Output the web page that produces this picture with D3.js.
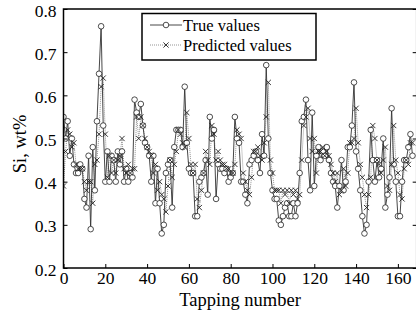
<!DOCTYPE html>
<html>
<head>
<meta charset="utf-8">
<script src="https://cdn.jsdelivr.net/npm/d3@7"></script>
<style>
  body { margin: 0; background: #fff; }
  text { font-family: "Liberation Serif", "DejaVu Serif", serif; fill: #000; }
</style>
</head>
<body>
<svg width="416" height="313"></svg>
<script>
// Si content of hot metal, true vs predicted, per tapping
var trueValues = [
  0.55,0.50,0.54,0.46,0.50,0.44,0.42,0.42,0.44,0.43,
  0.36,0.34,0.46,0.29,0.48,0.38,0.54,0.65,0.76,0.53,
  0.40,0.47,0.40,0.46,0.45,0.40,0.47,0.44,0.47,0.40,
  0.43,0.40,0.42,0.41,0.59,0.56,0.55,0.58,0.53,0.49,
  0.48,0.46,0.40,0.46,0.35,0.43,0.35,0.28,0.30,0.42,
  0.44,0.45,0.34,0.48,0.52,0.52,0.52,0.48,0.62,0.49,
  0.43,0.42,0.42,0.32,0.32,0.40,0.41,0.42,0.45,0.37,
  0.55,0.50,0.52,0.36,0.44,0.43,0.43,0.42,0.43,0.40,
  0.41,0.42,0.55,0.50,0.49,0.40,0.40,0.37,0.35,0.44,
  0.45,0.46,0.47,0.45,0.42,0.51,0.46,0.67,0.50,0.42,
  0.38,0.36,0.36,0.31,0.30,0.32,0.34,0.35,0.32,0.32,
  0.35,0.32,0.35,0.42,0.54,0.55,0.59,0.45,0.38,0.56,
  0.39,0.46,0.48,0.45,0.47,0.46,0.48,0.45,0.42,0.40,
  0.39,0.34,0.39,0.45,0.38,0.40,0.48,0.48,0.53,0.63,
  0.47,0.43,0.38,0.32,0.28,0.30,0.40,0.52,0.45,0.40,
  0.45,0.41,0.43,0.50,0.34,0.37,0.41,0.57,0.44,0.40,
  0.32,0.32,0.40,0.45,0.45,0.48,0.51,0.46
];
var predictedValues = [
  0.39,0.47,0.52,0.51,0.48,0.49,0.44,0.43,0.43,0.43,
  0.40,0.38,0.40,0.40,0.35,0.44,0.45,0.51,0.62,0.64,
  0.51,0.41,0.46,0.42,0.45,0.42,0.45,0.46,0.50,0.43,
  0.42,0.44,0.42,0.43,0.43,0.55,0.50,0.55,0.53,0.50,
  0.48,0.47,0.46,0.42,0.44,0.38,0.40,0.37,0.36,0.33,
  0.39,0.45,0.41,0.44,0.47,0.52,0.51,0.49,0.48,0.56,
  0.50,0.44,0.42,0.44,0.36,0.34,0.38,0.42,0.47,0.45,
  0.44,0.53,0.51,0.45,0.47,0.45,0.44,0.44,0.43,0.43,
  0.42,0.42,0.44,0.52,0.51,0.50,0.42,0.40,0.38,0.37,
  0.41,0.47,0.47,0.48,0.46,0.45,0.49,0.55,0.63,0.45,
  0.42,0.38,0.38,0.38,0.35,0.38,0.37,0.38,0.35,0.38,
  0.37,0.38,0.36,0.37,0.45,0.53,0.55,0.57,0.50,0.47,
  0.50,0.42,0.47,0.47,0.48,0.46,0.47,0.46,0.44,0.42,
  0.40,0.42,0.37,0.38,0.43,0.39,0.42,0.49,0.49,0.50,
  0.57,0.49,0.44,0.41,0.37,0.34,0.37,0.41,0.53,0.50,
  0.45,0.44,0.42,0.45,0.48,0.39,0.38,0.44,0.53,0.45,
  0.42,0.37,0.36,0.43,0.45,0.44,0.49,0.49
];
var xTicks = [0, 20, 40, 60, 80, 100, 120, 140, 160];
var yTicks = [0.2, 0.3, 0.4, 0.5, 0.6, 0.7, 0.8];
var seriesNames = ["True values", "Predicted values"];

var svg = d3.select("svg");
var mLeft = 63.5, mRight = 416.7, mTop = 9, mBottom = 268;

var x = d3.scaleLinear().domain([0, 169]).range([mLeft, mRight]);
var y = d3.scaleLinear().domain([0.2, 0.8]).range([mBottom, mTop]);

svg.append("clipPath").attr("id", "clip")
  .append("rect").attr("x", mLeft).attr("y", mTop).attr("width", mRight - mLeft).attr("height", mBottom - mTop);

var lineGen = d3.line().x(function(d, i) { return x(i); }).y(function(d) { return y(d); });

var pg = svg.append("g").attr("clip-path", "url(#clip)");

// predicted: dotted line
pg.append("path").datum(predictedValues)
  .attr("d", lineGen)
  .attr("fill", "none")
  .attr("stroke", "#888")
  .attr("stroke-width", 0.9)
  .attr("stroke-dasharray", "1,1");

// true: solid line
pg.append("path").datum(trueValues)
  .attr("d", lineGen)
  .attr("fill", "none")
  .attr("stroke", "#333")
  .attr("stroke-width", 0.9);

function cross(sel, cx, cy, s) {
  sel.append("path")
    .attr("d", "M" + (cx - s) + "," + (cy - s) + "L" + (cx + s) + "," + (cy + s) +
               "M" + (cx - s) + "," + (cy + s) + "L" + (cx + s) + "," + (cy - s))
    .attr("stroke", "#222").attr("stroke-width", 0.9).attr("fill", "none");
}

pg.selectAll("circle.t").data(trueValues).enter().append("circle")
  .attr("class", "t")
  .attr("cx", function(d, i) { return x(i); })
  .attr("cy", function(d) { return y(d); })
  .attr("r", 2.8)
  .attr("fill", "#fff")
  .attr("stroke", "#222")
  .attr("stroke-width", 0.8);

var cg = pg.append("g");
predictedValues.forEach(function(d, i) { cross(cg, x(i), y(d), 2.6); });

// axes with inward ticks
svg.append("g").attr("transform", "translate(0," + mBottom + ")")
  .call(d3.axisBottom(x).tickValues(xTicks).tickSizeInner(-4).tickSizeOuter(0))
  .call(function(g) {
    g.select(".domain").remove();
    g.selectAll("text").attr("font-family", "Liberation Serif").attr("font-size", 17.5).attr("dy", "0.71em").attr("y", 4);
    g.selectAll("line").attr("stroke-width", 1);
  });
svg.append("g").attr("transform", "translate(" + mLeft + ",0)")
  .call(d3.axisLeft(y).tickValues(yTicks).tickSizeInner(-4).tickSizeOuter(0).tickFormat(d3.format(".1f")))
  .call(function(g) {
    g.select(".domain").remove();
    g.selectAll("text").attr("font-family", "Liberation Serif").attr("font-size", 17.5).attr("x", -7).attr("dy", "0.4em");
    g.selectAll("line").attr("stroke-width", 1);
  });
svg.append("g").attr("transform", "translate(" + mRight + ",0)")
  .call(d3.axisRight(y).tickValues(yTicks).tickSizeInner(-4).tickSizeOuter(0).tickFormat(""))
  .call(function(g) { g.select(".domain").remove(); });

// frame
svg.append("rect")
  .attr("x", mLeft).attr("y", mTop)
  .attr("width", mRight - mLeft).attr("height", mBottom - mTop)
  .attr("fill", "none").attr("stroke", "#000").attr("stroke-width", 1.5);

// axis titles
svg.append("text")
  .attr("x", (mLeft + mRight) / 2).attr("y", 306)
  .attr("text-anchor", "middle").attr("font-size", 18.5)
  .text("Tapping number");
svg.append("text")
  .attr("transform", "translate(26,144) rotate(-90)")
  .attr("text-anchor", "middle").attr("font-size", 18.5)
  .text("Si, wt%");

// legend
var lg = svg.append("g");
lg.append("rect").attr("x", 142).attr("y", 13.5).attr("width", 174).attr("height", 46.5)
  .attr("fill", "#fff").attr("stroke", "#000").attr("stroke-width", 1.5);
lg.append("line").attr("x1", 150).attr("x2", 182).attr("y1", 25).attr("y2", 25)
  .attr("stroke", "#333").attr("stroke-width", 0.9);
lg.append("circle").attr("cx", 166).attr("cy", 25).attr("r", 2.8)
  .attr("fill", "#fff").attr("stroke", "#222").attr("stroke-width", 0.8);
lg.append("line").attr("x1", 150).attr("x2", 182).attr("y1", 45).attr("y2", 45)
  .attr("stroke", "#888").attr("stroke-width", 0.9).attr("stroke-dasharray", "1,1");
cross(lg, 166, 45, 2.6);
lg.selectAll("text.leg").data(seriesNames).enter().append("text")
  .attr("class", "leg")
  .attr("x", 183)
  .attr("y", function(d, i) { return 31 + i * 20; })
  .attr("font-size", 16.5)
  .text(function(d) { return d; });
</script>
</body>
</html>
